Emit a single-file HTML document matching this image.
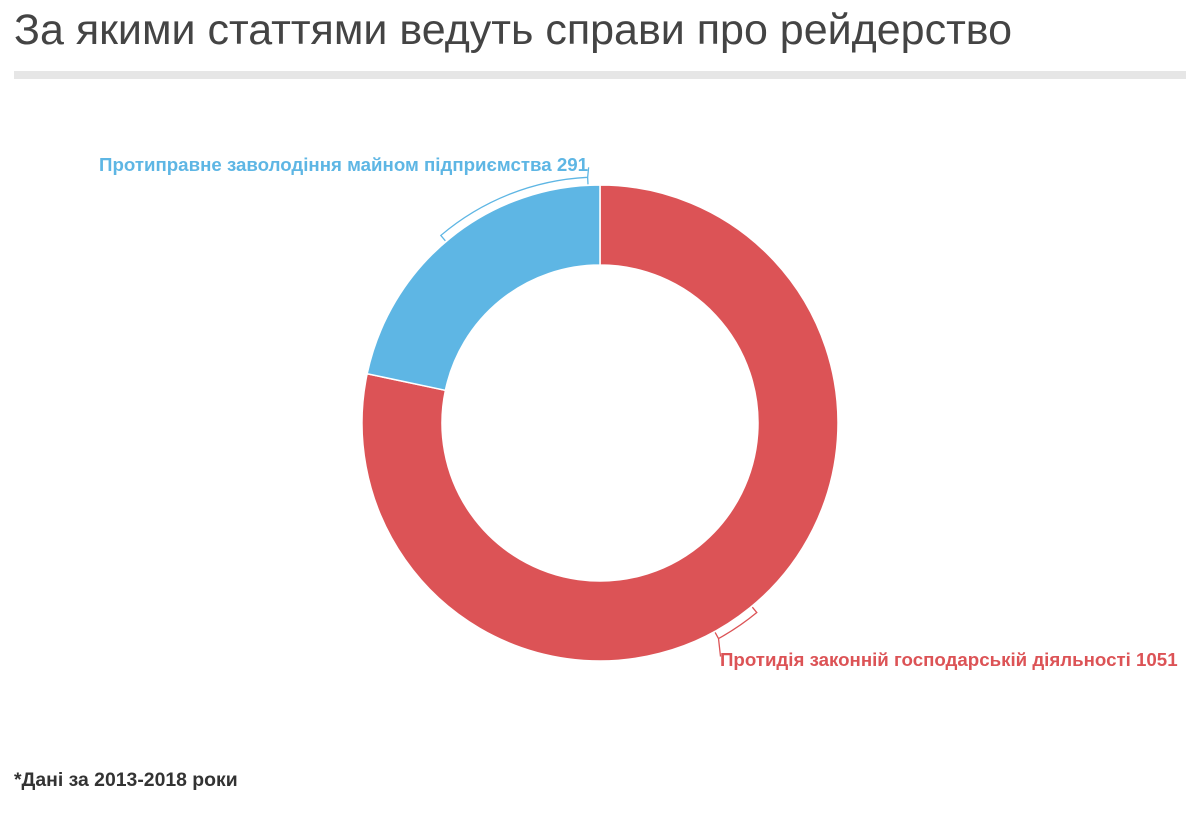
<!DOCTYPE html>
<html><head><meta charset="utf-8"><style>
body{margin:0;background:#fff;width:1194px;height:813px;overflow:hidden;font-family:"Liberation Sans","DejaVu Sans",sans-serif}
</style></head><body>
<div style="position:absolute;left:14px;top:6px;font-size:43px;color:#444;white-space:nowrap">За якими статтями ведуть справи про рейдерство</div>
<div style="position:absolute;left:14px;top:71px;width:1172px;height:8px;background:#e6e6e6"></div>
<svg id="chart" width="1194" height="813" style="position:absolute;left:0;top:0"></svg>
<div style="position:absolute;left:14px;top:769px;font-size:19.4px;font-weight:bold;color:#333">*Дані за 2013-2018 роки</div>
<script>
const categories=["Протидія законній господарській діяльності","Протиправне заволодіння майном підприємства"];
const values=[1051,291];
const colors=["#dc5356","#5eb6e4"];
const svg=document.getElementById('chart');const NS='http://www.w3.org/2000/svg';
const cx=600,cy=423,R=238,r=158;
const total=values.reduce((a,b)=>a+b,0);
function pt(a,rad){return [cx+rad*Math.sin(a),cy-rad*Math.cos(a)];}
let a0=0;
values.forEach((v,i)=>{
 const a1=a0+v/total*2*Math.PI;
 const large=(a1-a0)>Math.PI?1:0;
 const p1=pt(a0,R),p2=pt(a1,R),p3=pt(a1,r),p4=pt(a0,r);
 const p=document.createElementNS(NS,'path');
 p.setAttribute('d',`M${p1}A${R},${R} 0 ${large} 1 ${p2}L${p3}A${r},${r} 0 ${large} 0 ${p4}Z`);
 p.setAttribute('fill',colors[i]);p.setAttribute('stroke','#fff');p.setAttribute('stroke-width','1.5');
 
 
 svg.appendChild(p);
 let b0,b1;
 if(i===0){b0=a0+0.39*2*Math.PI;b1=b0+0.03*2*Math.PI;}else{b0=2*Math.PI-0.008*2*Math.PI;b1=2*Math.PI-0.112*2*Math.PI;}
 const rb=246,rt=239;
 const q0=pt(b0,rt),q1=pt(b0,rb),q2=pt(b1,rb),q3=pt(b1,rt);
 const br=document.createElementNS(NS,'path');
 let d;
 if(i===0){const e=pt(b1,rb);d=`M${q0}L${q1}A${rb},${rb} 0 0 1 ${q2}L${q3}M${e[0]},${e[1]}L${e[0]+2},${e[1]+18}`;}
 else{const e=pt(b0,rb);d=`M${q0}L${q1}A${rb},${rb} 0 0 0 ${q2}L${q3}M${e[0]},${e[1]}L${e[0]+1},${e[1]-10}`;}
 br.setAttribute('d',d);br.setAttribute('fill','none');br.setAttribute('stroke',colors[i]);br.setAttribute('stroke-width','1.3');
 
 
 svg.appendChild(br);
 const t=document.createElementNS(NS,'text');
 t.textContent=categories[i]+' '+values[i];
 t.setAttribute('fill',colors[i]);t.setAttribute('font-size','18.7');t.setAttribute('font-weight','bold');
 if(i===0){t.setAttribute('x',720);t.setAttribute('y',666);}
 else{t.setAttribute('x',588);t.setAttribute('y',171);t.setAttribute('text-anchor','end');}
 
 
 svg.appendChild(t);
 a0=a1;
});
</script>
</body></html>
